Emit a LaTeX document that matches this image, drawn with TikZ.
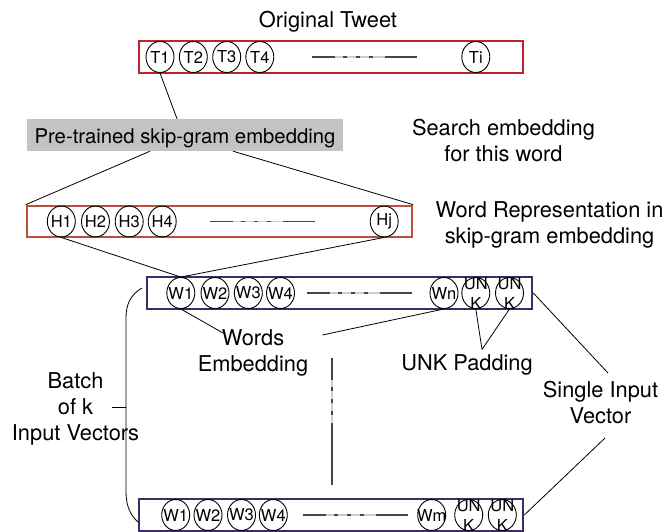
\documentclass[tikz,border=0pt]{standalone}
\usepackage{fontspec}
\setmainfont{TeX Gyre Heros}
\usetikzlibrary{shapes.geometric}
\definecolor{tred}{RGB}{190,35,45}
\definecolor{hred}{RGB}{185,80,55}
\definecolor{wblue}{RGB}{60,45,105}
\definecolor{pgray}{RGB}{195,195,195}
\definecolor{dk}{RGB}{70,70,70}
\definecolor{lt}{RGB}{205,205,205}
\begin{document}
\begin{tikzpicture}[x=1pt,y=-1pt,
  lbl/.style={font=\fontsize{21.8}{26}\selectfont, inner sep=0pt, align=center},
  tok/.style={draw, ellipse, line width=0.9pt, minimum width=28pt, minimum height=31pt, inner sep=0pt},
  tl/.style={font=\fontsize{16.5}{20}\selectfont, inner sep=0pt, align=center},
  vbox/.style={draw, line width=2.6pt, minimum height=32pt, inner sep=0pt},
  conn/.style={line width=0.8pt},
  hdots/.pic={
    \draw[lt, line width=1.4pt] (23,0) -- (73,0);
    \draw[dk, line width=1.4pt] (0,0) -- (23,0) (31,0) -- (35,0) (44,0) -- (48,0) (57,0) -- (61,0) (73,0) -- (105,0);
  }
]
\useasboundingbox (0,0) rectangle (663,532);

% titles and labels
\node[lbl, anchor=base] (orig) at (328,28) {Original Tweet};
\node[lbl, anchor=north] (search) at (503.5,119) {Search embedding\\for this word};
\node[lbl, anchor=north] (wrep) at (549.5,201) {Word Representation in\\skip-gram embedding};
\node[lbl, anchor=north] (words) at (253,329) {Words\\Embedding};
\node[lbl, anchor=north] (batch) at (75.5,372) {Batch\\of k\\Input Vectors};
\node[lbl, anchor=base] (unk) at (467,370) {UNK Padding};
\node[lbl, anchor=north] (single) at (600.5,381) {Single Input\\Vector};

% pre-trained box
\node[fill=pgray, minimum width=316pt, minimum height=32pt, inner sep=0pt,
      text height=18pt, text depth=2pt, font=\fontsize{20.3}{24}\selectfont] (pre) at (185,135) {Pre-trained skip-gram embedding};

% tweet row
\node[vbox, draw=tred, minimum width=384pt] (tbox) at (331,57) {};
\node[tok, label={[tl]center:T1}] (t1) at (160,57) {};
\node[tok, label={[tl]center:T2}] (t2) at (193.3,57) {};
\node[tok, label={[tl]center:T3}] (t3) at (226.7,57) {};
\node[tok, label={[tl]center:T4}] (t4) at (259.8,57) {};
\node[tok, label={[tl]center:Ti}] (ti) at (475.8,57) {};
\pic at (312,57) {hdots};

% skip-gram row
\node[vbox, draw=hred, minimum width=385pt, minimum height=31pt] (hbox) at (219.5,221.5) {};
\node[tok, label={[tl]center:H1}] (h1) at (61.3,221.5) {};
\node[tok, label={[tl]center:H2}] (h2) at (95.5,221.5) {};
\node[tok, label={[tl]center:H3}] (h3) at (129.2,221.5) {};
\node[tok, label={[tl]center:H4}] (h4) at (162.2,221.5) {};
\node[tok, label={[tl]center:Hj}] (hj) at (384.2,221.5) {};
\pic at (210,221.5) {hdots};

% first input vector
\node[vbox, draw=wblue, minimum width=385pt] (wbox) at (339.5,293) {};
\node[tok, label={[tl]center:W1}] (w1) at (180.8,293) {};
\node[tok, label={[tl]center:W2}] (w2) at (215,293) {};
\node[tok, label={[tl]center:W3}] (w3) at (248.3,293) {};
\node[tok, label={[tl]center:W4}] (w4) at (280.5,293) {};
\node[tok, label={[tl]center:Wn}] (wn) at (444,293) {};
\node[tok, label={[tl]center:{UN\\K}}] (u1) at (475.8,293) {};
\node[tok, label={[tl]center:{UN\\K}}] (u2) at (509.5,293) {};
\pic at (307,293) {hdots};

% last input vector
\node[vbox, draw=wblue, minimum width=384pt] (wbox2) at (331,515) {};
\node[tok, label={[tl]center:W1}] (m1) at (175.7,515) {};
\node[tok, label={[tl]center:W2}] (m2) at (208,515) {};
\node[tok, label={[tl]center:W3}] (m3) at (241.5,515) {};
\node[tok, label={[tl]center:W4}] (m4) at (273.3,515) {};
\node[tok, label={[tl]center:Wm}] (mm) at (431.7,515) {};
\node[tok, label={[tl]center:{UN\\K}}] (mu1) at (468.7,515) {};
\node[tok, label={[tl]center:{UN\\K}}] (mu2) at (502.3,515) {};
\pic at (303,515) {hdots};

% vertical ellipsis between vectors
\draw[lt, line width=1.4pt] (332,380) -- (332,423);
\draw[dk, line width=1.4pt] (332,358) -- (332,380) (332,387) -- (332,391) (332,399) -- (332,403) (332,411) -- (332,415) (332,423) -- (332,485);

% connectors
\draw[conn] (t1.south) -- ([xshift=-8pt]pre.north);
\draw[conn] ([xshift=-35pt]pre.south) -- (hbox.north west);
\draw[conn] ([xshift=48pt]pre.south) -- (hbox.north east);
\draw[conn] (h1.south) -- (w1.north);
\draw[conn] (hj.south) -- (w1.north);
\draw[conn] (w1.south) -- ([xshift=-30pt,yshift=-4pt]words.north);
\draw[conn] (wn.south) -- ([xshift=14pt,yshift=-6pt]words.north east);
\draw[conn] (u1.south) -- ([xshift=15pt,yshift=4.5pt]unk.north);
\draw[conn] (u2.south) -- ([xshift=15pt,yshift=4.5pt]unk.north);
\draw[conn] (wbox.east) -- ([xshift=7.5pt,yshift=8pt]single.north);
\draw[conn] ([xshift=4.5pt,yshift=-14pt]single.south) -- (wbox2.east);

% batch bracket
\draw[conn] (142,288) .. controls (130,295) and (126,305) .. (126,318) -- (126,492) .. controls (126,505) and (130,515) .. (138,522);
\draw[conn] (112,407) -- (126,407);
\end{tikzpicture}
\end{document}
